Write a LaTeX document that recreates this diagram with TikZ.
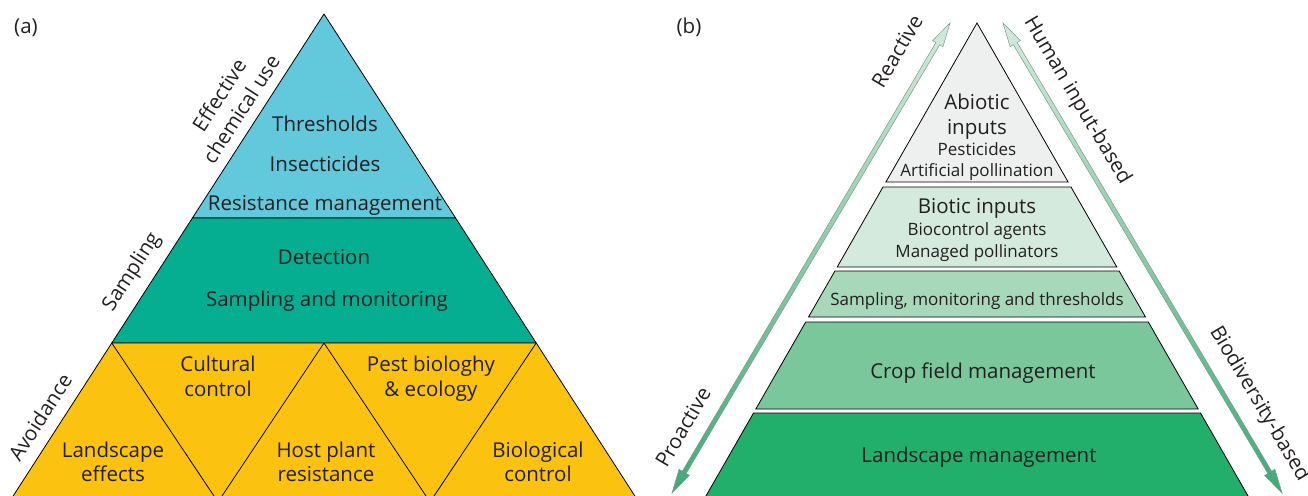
\documentclass[tikz,border=0pt]{standalone}
\usepackage{fontspec}
\setmainfont{Open Sans}
\usetikzlibrary{calc}
\definecolor{txt}{HTML}{231F20}
\definecolor{cyanb}{HTML}{62C8DC}
\definecolor{tealb}{HTML}{06AE91}
\definecolor{yelb}{HTML}{FBC30F}
\definecolor{grayb}{HTML}{EEF0EF}
\definecolor{bioticb}{HTML}{D3EADC}
\definecolor{sampb}{HTML}{A8D8BA}
\definecolor{cropb}{HTML}{79C79A}
\definecolor{landb}{HTML}{22AF6C}
\definecolor{arrtop}{HTML}{D2EBDC}
\definecolor{arrbot}{HTML}{3FAA76}
\definecolor{arredge}{HTML}{7F978B}
\begin{document}
\begin{tikzpicture}[x=1pt,y=-1pt,
  band/.style={draw=black,line width=0.8pt,line join=miter},
  lbl/.style={text=txt,inner sep=0pt,text height=14.6pt,text depth=0pt,font=\fontsize{20.5}{26}\selectfont},
  sml/.style={text=txt,inner sep=0pt,text height=12.1pt,text depth=0pt,font=\fontsize{17}{21}\selectfont},
  side/.style={text=txt,inner sep=0pt,align=center,font=\fontsize{20.5}{26}\selectfont},
  arr/.style={top color=arrtop,bottom color=arrbot,draw=arredge,line width=0.5pt,line join=miter}
]
\useasboundingbox (0,0) rectangle (1308,495);
\clip (0,0) rectangle (1308,495);

% ---------- left pyramid ----------
\coordinate (LA) at (324,14);
\coordinate (L1l) at (192.4,218);
\coordinate (L1r) at (455.6,218);
\coordinate (L2l) at (111.8,343);
\coordinate (L2m) at (324,343);
\coordinate (L2r) at (536.2,343);
\coordinate (L3l) at (2.8,512);
\coordinate (L3r) at (645.2,512);
\coordinate (L4a) at (218,502);
\coordinate (L4b) at (430,502);
\path[band,fill=cyanb] (LA) -- (L1r) -- (L1l) -- cycle;
\path[band,fill=tealb] (L1l) -- (L1r) -- (L2r) -- (L2l) -- cycle;
\path[band,fill=yelb] (L2l) -- (L2r) -- (L3r) -- (L3l) -- cycle;
\draw[band] (L2l) -- (L4a) -- (L2m) -- (L4b) -- (L2r);

\node[lbl] (thr) at (325,124) {Thresholds};
\node[lbl] (ins) at (325,164) {Insecticides};
\node[lbl] (res) at (325,203) {Resistance management};
\node[lbl] (det) at (324,257) {Detection};
\node[lbl] (sam) at (327,299) {Sampling and monitoring};
\node[lbl] (cul1) at (218,364) {Cultural};
\node[lbl] (cul2) at (218,389) {control};
\node[lbl] (pest1) at (431,364) {Pest biologhy};
\node[lbl] (pest2) at (431,389) {\& ecology};
\node[lbl] (land1) at (113,450) {Landscape};
\node[lbl] (land2) at (113,474) {effects};
\node[lbl] (host1) at (326,450) {Host plant};
\node[lbl] (host2) at (326,474) {resistance};
\node[lbl] (bio1) at (538,450) {Biological};
\node[lbl] (bio2) at (538,474) {control};

\node[side,rotate=57.2] (eff) at (230,102) {Effective\\chemical use};
\node[side,rotate=57.2] (samp) at (132,272) {Sampling};
\node[side,rotate=57.2] (avo) at (40,417) {Avoidance};
\node[side] (pa) at (26,28) {(a)};

% ---------- right pyramid ----------
\path[band,fill=grayb] (977,23) -- (1068.1,182) -- (885.9,182) -- cycle;
\path[band,fill=bioticb] (883,187) -- (1071,187) -- (1116.8,267) -- (837.2,267) -- cycle;
\path[band,fill=sampb] (834.9,271) -- (1119.1,271) -- (1145.5,317) -- (808.5,317) -- cycle;
\path[band,fill=cropb] (805.7,322) -- (1148.3,322) -- (1198.2,409) -- (755.8,409) -- cycle;
\path[band,fill=landb] (753.5,413) -- (1200.5,413) -- (1261.8,520) -- (692.2,520) -- cycle;

\node[lbl] (abi1) at (977,102) {Abiotic};
\node[lbl] (abi2) at (977,127) {inputs};
\node[sml] (abi3) at (977,149.5) {Pesticides};
\node[sml] (abi4) at (977,170.5) {Artificial pollination};
\node[lbl] (bt1) at (977,206) {Biotic inputs};
\node[sml] (bt2) at (977,229) {Biocontrol agents};
\node[sml] (bt3) at (977,251.5) {Managed pollinators};
\node[sml] (smt) at (977,299.5) {Sampling, monitoring and thresholds};
\node[lbl] (crop) at (983,371.5) {Crop field management};
\node[lbl] (lm) at (979,455) {Landscape management};
\node[side] (pb) at (689,27.5) {(b)};

% ---------- arrows ----------
\coordinate (LAt) at (950,23);
\coordinate (LAb) at (672,493);
\coordinate (LAt0) at ($(LAt)!24pt!(LAb)$);
\coordinate (LAb0) at ($(LAb)!24pt!(LAt)$);
\shade[arr] (LAt) -- ($(LAt0)!6pt!90:(LAt)$) -- ($(LAt0)!2.2pt!90:(LAt)$) -- ($(LAb0)!2.2pt!-90:(LAb)$) -- ($(LAb0)!6pt!-90:(LAb)$) -- (LAb) -- ($(LAb0)!6pt!90:(LAb)$) -- ($(LAb0)!2.2pt!90:(LAb)$) -- ($(LAt0)!2.2pt!-90:(LAt)$) -- ($(LAt0)!6pt!-90:(LAt)$) -- cycle;

\coordinate (RAt) at (1003,23);
\coordinate (RAb) at (1282,493);
\coordinate (RAt0) at ($(RAt)!24pt!(RAb)$);
\coordinate (RAb0) at ($(RAb)!24pt!(RAt)$);
\shade[arr] (RAt) -- ($(RAt0)!6pt!90:(RAt)$) -- ($(RAt0)!2.2pt!90:(RAt)$) -- ($(RAb0)!2.2pt!-90:(RAb)$) -- ($(RAb0)!6pt!-90:(RAb)$) -- (RAb) -- ($(RAb0)!6pt!90:(RAb)$) -- ($(RAb0)!2.2pt!90:(RAb)$) -- ($(RAt0)!2.2pt!-90:(RAt)$) -- ($(RAt0)!6pt!-90:(RAt)$) -- cycle;

\node[side,rotate=59.4] (rea) at (897,51) {Reactive};
\node[side,rotate=59.4] (pro) at (683,427) {Proactive};
\node[side,rotate=-59.3] (hum) at (1077,101) {Human input-based};
\node[side,rotate=-59.3] (bdv) at (1259,404) {Biodiversity-based};
\end{tikzpicture}
\end{document}
